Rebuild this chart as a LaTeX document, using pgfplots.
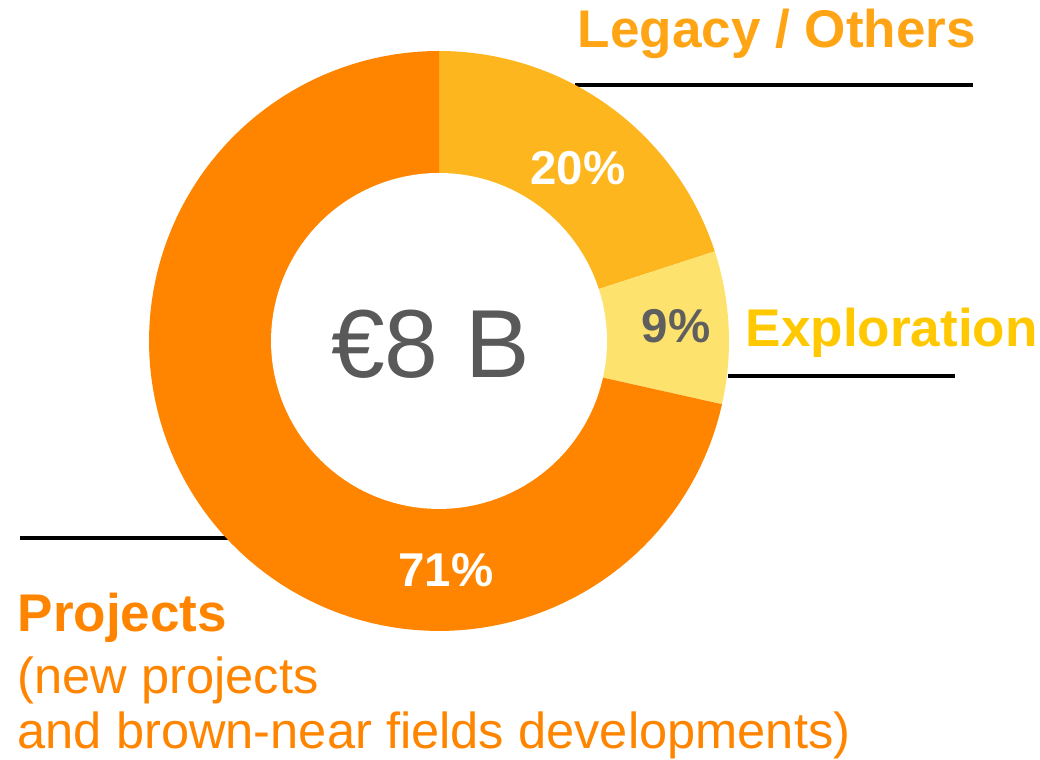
\documentclass[border=0pt]{standalone}
\usepackage{pgfplots}
\pgfplotsset{compat=1.18}
\usepackage{fontspec}
\setmainfont{Liberation Sans}
\definecolor{cProj}{HTML}{FF8500}
\definecolor{cLeg}{HTML}{FDB61E}
\definecolor{cExp}{HTML}{FDE36D}
\definecolor{tLeg}{HTML}{FFA515}
\definecolor{tExp}{HTML}{FFC800}
\definecolor{tGray}{HTML}{5F5F5F}
\definecolor{tCenter}{HTML}{595959}
\begin{document}
\begin{tikzpicture}
% shares (percent)
\def\vLeg{20}
\def\vExp{8.5}
\def\vPro{71.5}
\def\cx{439}\def\cy{419}\def\rO{290}\def\rI{168}
\pgfmathsetmacro\aA{90}
\pgfmathsetmacro\aB{90-3.6*\vLeg}
\pgfmathsetmacro\aC{\aB-3.6*\vExp}
\pgfmathsetmacro\aD{\aC-3.6*\vPro}
\begin{axis}[
  width=10.4cm, height=7.6cm, scale only axis,
  xmin=0, xmax=1040, ymin=0, ymax=760,
  hide axis, clip=false,
]
\addplot[draw=none, forget plot] coordinates {(0,0) (1040,760)};
% leader lines
\addplot[black, line width=1pt] coordinates {(575,675) (973,675)};
\addplot[black, line width=1pt] coordinates {(728,384) (955,384)};
\addplot[black, line width=1pt] coordinates {(20,222) (240,222)};
% sectors
\addplot[fill=cLeg, draw=none, domain=\aB:\aA, samples=40]
  ({\cx+\rO*cos(x)},{\cy+\rO*sin(x)}) -- (axis cs:\cx,\cy) -- cycle;
\addplot[fill=cExp, draw=none, domain=\aC:\aB, samples=20]
  ({\cx+\rO*cos(x)},{\cy+\rO*sin(x)}) -- (axis cs:\cx,\cy) -- cycle;
\addplot[fill=cProj, draw=none, domain=\aD:\aC, samples=120]
  ({\cx+\rO*cos(x)},{\cy+\rO*sin(x)}) -- (axis cs:\cx,\cy) -- cycle;
% hole
\addplot[fill=white, draw=none, domain=0:360, samples=140]
  ({\cx+\rI*cos(x)},{\cy+\rI*sin(x)}) -- cycle;
% percentages
\node[font=\bfseries\fontsize{13.5}{16}\selectfont, text=white, inner sep=0] at (axis cs:578,592) {20\%};
\node[font=\bfseries\fontsize{13.5}{16}\selectfont, text=tGray, inner sep=0] at (axis cs:676,434) {9\%};
\node[font=\bfseries\fontsize{13.5}{16}\selectfont, text=white, inner sep=0] at (axis cs:446,190) {71\%};
% centre
\node[font=\fontsize{27.5}{32}\selectfont, text=tCenter, inner sep=0, anchor=base] at (axis cs:430.5,382) {€8 B};
% labels
\node[font=\bfseries\fontsize{15.1}{18}\selectfont, text=tLeg, inner sep=0, anchor=base west] at (axis cs:577,712) {Legacy / Others};
\node[font=\bfseries\fontsize{15.1}{18}\selectfont, text=tExp, inner sep=0, anchor=base west] at (axis cs:745,413) {Exploration};
\node[font=\bfseries\fontsize{15.1}{18}\selectfont, text=cProj, inner sep=0, anchor=base west] at (axis cs:17,128) {Projects};
\node[font=\fontsize{14.4}{17}\selectfont, text=cProj, inner sep=0, anchor=base west] at (axis cs:17,66) {(new projects};
\node[font=\fontsize{14.4}{17}\selectfont, text=cProj, inner sep=0, anchor=base west] at (axis cs:17,11) {and brown-near fields developments)};
\end{axis}
\end{tikzpicture}
\end{document}
